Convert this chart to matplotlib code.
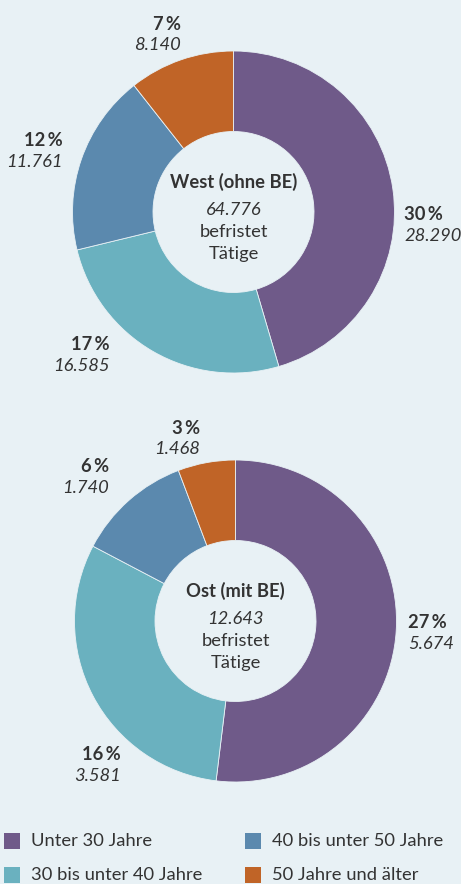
import matplotlib
matplotlib.use("Agg")
import matplotlib.pyplot as plt
from matplotlib.patches import Rectangle

plt.rcParams['font.family'] = ['Lato', 'DejaVu Sans']

W, H = 461, 884
bg = '#e8f1f5'
txt = '#333333'
fs = 13.2

categories = ['Unter 30 Jahre', '30 bis unter 40 Jahre', '40 bis unter 50 Jahre', '50 Jahre und älter']
colors = ['#6f5a89', '#6ab1bf', '#5b89ae', '#c06427']

# West (ohne BE)
west_pct = [30, 17, 12, 7]
west_abs = ['28.290', '16.585', '11.761', '8.140']
west_total = '64.776'
# Ost (mit BE)
ost_pct = [27, 16, 6, 3]
ost_abs = ['5.674', '3.581', '1.740', '1.468']
ost_total = '12.643'

fig = plt.figure(figsize=(W / 100, H / 100), dpi=100)
fig.patch.set_facecolor(bg)


def px(x, y):
    return x / W, 1 - y / H


def donut(cx, cy, r, pct):
    ax = fig.add_axes([(cx - r) / W, 1 - (cy + r) / H, 2 * r / W, 2 * r / H])
    ax.pie(pct, colors=colors, startangle=90, counterclock=False, radius=1,
           wedgeprops=dict(width=0.5, edgecolor=bg, linewidth=0.6))
    ax.set_xlim(-1, 1)
    ax.set_ylim(-1, 1)
    ax.axis('off')
    return ax


def label(x, y, pct, val, ha):
    fig.text(*px(x, y), f'{pct}\u2009%', ha=ha, va='center', fontsize=fs,
             fontweight='bold', color=txt)
    fig.text(*px(x, y + 21), val, ha=ha, va='center', fontsize=fs,
             style='italic', color=txt)


def center_text(cx, cy, title, total):
    fig.text(*px(cx, cy - 30), title, ha='center', va='center', fontsize=fs,
             fontweight='bold', color=txt)
    fig.text(*px(cx, cy - 2), total, ha='center', va='center', fontsize=fs,
             style='italic', color=txt)
    fig.text(*px(cx, cy + 20), 'befristet', ha='center', va='center', fontsize=fs, color=txt)
    fig.text(*px(cx, cy + 42), 'Tätige', ha='center', va='center', fontsize=fs, color=txt)


donut(233.5, 212, 161, west_pct)
center_text(233.5, 212, 'West (ohne BE)', west_total)
label(181, 24, west_pct[3], west_abs[3], 'right')
label(63, 141, west_pct[2], west_abs[2], 'right')
label(404, 215, west_pct[0], west_abs[0], 'left')
label(110, 345, west_pct[1], west_abs[1], 'right')

donut(235.5, 621, 161, ost_pct)
center_text(235.5, 621, 'Ost (mit BE)', ost_total)
label(200, 428, ost_pct[3], ost_abs[3], 'right')
label(109, 467, ost_pct[2], ost_abs[2], 'right')
label(408, 623, ost_pct[0], ost_abs[0], 'left')
label(121, 755, ost_pct[1], ost_abs[1], 'right')

# legend
leg_pos = [(4, 841), (4, 875), (245, 841), (245, 875)]
for (x, y), cat, c in zip(leg_pos, categories, colors):
    fig.patches.append(Rectangle(px(x, y + 8), 16 / W, 16 / H, facecolor=c,
                                 transform=fig.transFigure, figure=fig))
    fig.text(*px(x + 27, y), cat, ha='left', va='center', fontsize=fs, color=txt)

fig.savefig('out.png', dpi=100, facecolor=bg)
